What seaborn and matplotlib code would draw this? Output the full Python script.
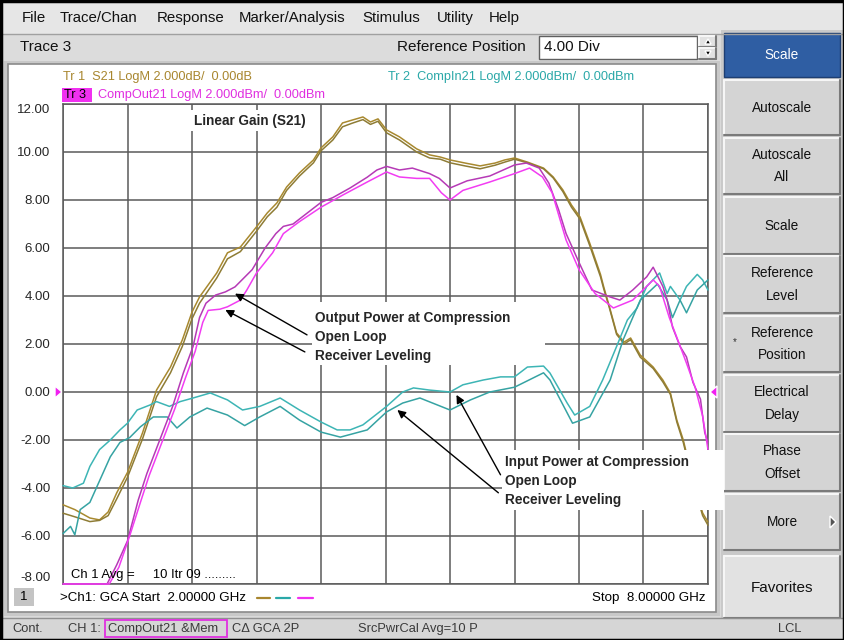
import matplotlib
matplotlib.use("Agg")
import matplotlib.pyplot as plt
from matplotlib.patches import Rectangle, Polygon
import numpy as np
import pandas as pd
import seaborn as sns

# ---------------- data (GHz, dB / dBm) ----------------
s21_freq = [2.0, 2.11, 2.25, 2.34, 2.42, 2.50, 2.60, 2.74, 2.87, 3.0, 3.11, 3.2, 3.27, 3.43, 3.53,
            3.65, 3.80, 3.90, 3.99, 4.08, 4.20, 4.33, 4.40, 4.51, 4.60, 4.69, 4.79, 4.86, 4.93,
            5.01, 5.13, 5.29, 5.41, 5.51, 5.60, 5.74, 5.88, 6.02, 6.11, 6.20, 6.32, 6.47, 6.56,
            6.65, 6.73, 6.81, 6.90, 7.0, 7.03, 7.08, 7.15, 7.22, 7.28, 7.37, 7.49, 7.58, 7.65,
            7.71, 7.77, 7.86, 7.95, 8.0]
s21_data = [-4.7, -4.9, -5.25, -5.33, -5.0, -4.2, -3.35, -1.7, 0.08, 1.04, 2.17, 3.33, 3.96, 4.96, 5.8,
            6.04, 6.88, 7.46, 7.88, 8.54, 9.13, 9.67, 10.17, 10.63, 11.21, 11.33, 11.46, 11.25, 11.38,
            10.92, 10.63, 10.13, 9.88, 9.79, 9.67, 9.54, 9.42, 9.54, 9.67, 9.75, 9.58, 9.33, 8.96,
            8.42, 7.79, 7.29, 6.2, 4.9, 4.38, 3.6, 2.46, 2.08, 2.25, 1.54, 1.04, 0.5, -0.04,
            -1.17, -2.0, -3.67, -5.04, -5.42]
s21_mem = [-5.05, -5.2, -5.4, -5.35, -5.15, -4.45, -3.55, -1.95, -0.2, 0.8, 1.9, 3.05, 3.7, 4.75, 5.55,
           5.85, 6.7, 7.3, 7.7, 8.4, 9.0, 9.55, 10.05, 10.5, 11.05, 11.2, 11.35, 11.15, 11.28,
           10.8, 10.5, 10.0, 9.75, 9.7, 9.55, 9.42, 9.3, 9.45, 9.58, 9.7, 9.55, 9.3, 8.92,
           8.35, 7.7, 7.2, 6.1, 4.8, 4.3, 3.55, 2.4, 2.0, 2.18, 1.45, 0.98, 0.42, -0.1,
           -1.25, -2.1, -3.75, -5.15, -5.55]

out_freq = [2.0, 2.41, 2.50, 2.60, 2.70, 2.78, 2.90, 3.02, 3.12, 3.21, 3.27, 3.33, 3.42, 3.51, 3.60,
            3.76, 3.88, 3.98, 4.05, 4.14, 4.27, 4.40, 4.51, 4.67, 4.83, 4.92, 5.01, 5.13, 5.25,
            5.41, 5.50, 5.60, 5.76, 5.97, 6.20, 6.31, 6.43, 6.52, 6.61, 6.68, 6.80, 6.92, 7.09,
            7.18, 7.30, 7.43, 7.49, 7.58, 7.62, 7.67, 7.74, 7.80, 7.86, 7.93, 7.97, 8.0]
out_open = [-8.0, -8.0, -7.2, -6.2, -4.5, -3.4, -2.0, -0.6, 0.8, 1.9, 3.1, 3.7, 4.04, 4.17, 4.38,
            5.1, 6.0, 6.6, 6.9, 7.0, 7.45, 7.9, 8.1, 8.5, 8.95, 9.25, 9.4, 9.25, 9.33,
            9.1, 8.9, 8.5, 8.8, 9.0, 9.46, 9.54, 9.33, 8.7, 7.6, 6.6, 5.4, 4.25, 3.96,
            3.83, 4.25, 4.8, 5.2, 4.4, 3.83, 2.7, 1.9, 1.46, 0.4, -0.3, -1.7, -2.1]
out_rcv_freq = [2.0, 2.43, 2.52, 2.62, 2.72, 2.80, 2.92, 3.04, 3.14, 3.23, 3.30, 3.35, 3.46, 3.53,
                3.65, 3.71, 3.80, 3.95, 4.05, 4.20, 4.40, 4.60, 4.83, 5.01, 5.13, 5.29, 5.41, 5.52,
                5.60, 5.72, 5.97, 6.20, 6.34, 6.46, 6.55, 6.68, 6.80, 6.95, 7.12, 7.30, 7.49, 7.55,
                7.64, 7.73, 7.80, 7.88, 7.95, 8.0]
out_rcv = [-8.0, -8.0, -7.3, -6.0, -4.6, -3.5, -2.1, -0.7, 0.6, 1.7, 2.9, 3.4, 3.45, 3.55,
           3.83, 4.25, 4.96, 5.8, 6.6, 7.1, 7.7, 8.2, 8.75, 9.17, 8.96, 8.9, 8.9, 8.3,
           8.0, 8.4, 8.75, 9.1, 9.33, 8.96, 8.3, 6.33, 5.1, 4.1, 3.5, 3.83, 4.67, 4.4,
           3.1, 2.04, 1.2, 0.2, -1.0, -2.4]

in_freq = [2.0, 2.09, 2.19, 2.25, 2.34, 2.44, 2.53, 2.60, 2.69, 2.81, 2.87, 2.99, 3.09, 3.21, 3.37,
           3.53, 3.67, 3.83, 4.02, 4.20, 4.40, 4.55, 4.67, 4.79, 5.01, 5.16, 5.26, 5.41, 5.60,
           5.72, 5.91, 6.07, 6.20, 6.32, 6.47, 6.53, 6.69, 6.76, 6.90, 7.02, 7.15, 7.25, 7.34,
           7.43, 7.55, 7.62, 7.65, 7.74, 7.80, 7.90, 7.95, 8.0]
in_open = [-3.9, -4.0, -3.8, -3.1, -2.4, -2.0, -1.58, -1.3, -0.75, -0.54, -0.4, -0.6, -0.4, -0.25, -0.04,
           -0.33, -0.75, -0.6, -0.25, -0.75, -1.25, -1.58, -1.58, -1.37, -0.6, 0.0, 0.17, 0.08, 0.0,
           0.3, 0.5, 0.63, 0.63, 1.04, 1.08, 0.79, -0.46, -0.96, -0.6, 0.5, 1.9, 3.0, 3.5,
           4.4, 4.96, 4.1, 4.4, 3.83, 4.4, 4.9, 4.67, 4.25]
in_rcv_freq = [2.0, 2.07, 2.11, 2.16, 2.25, 2.34, 2.44, 2.53, 2.62, 2.72, 2.84, 2.97, 3.06, 3.18, 3.34,
               3.53, 3.69, 3.83, 4.02, 4.20, 4.40, 4.58, 4.83, 5.01, 5.16, 5.32, 5.60, 5.79, 5.97,
               6.20, 6.47, 6.53, 6.74, 6.90, 7.09, 7.21, 7.37, 7.53, 7.62, 7.67, 7.74, 7.80, 7.90, 8.0]
in_rcv = [-5.9, -5.6, -5.95, -4.9, -4.6, -3.7, -2.7, -2.1, -1.9, -1.45, -1.04, -1.04, -1.5, -1.04, -0.67,
          -0.96, -1.4, -1.04, -0.6, -1.17, -1.67, -1.88, -1.58, -0.83, -0.46, -0.25, -0.75, -0.33, 0.0,
          0.2, 0.8, 0.5, -1.3, -1.04, 0.5, 2.17, 3.83, 4.5, 3.83, 3.1, 3.83, 3.3, 4.25, 4.67]

y_ticks = [-8, -6, -4, -2, 0, 2, 4, 6, 8, 10, 12]
y_tick_labels = ["-8.00", "-6.00", "-4.00", "-2.00", "0.00", "2.00", "4.00", "6.00", "8.00", "10.00", "12.00"]
x_start, x_stop = 2.0, 8.0

menu_items = ["File", "Trace/Chan", "Response", "Marker/Analysis", "Stimulus", "Utility", "Help"]
menu_x = [22, 60, 157, 239, 362, 437, 489]
buttons = ["Autoscale", "Autoscale\nAll", "Scale", "Reference\nLevel", "Reference\nPosition",
           "Electrical\nDelay", "Phase\nOffset", "More"]

C_S21 = ["#A8892F", "#8E7C35"]
C_IN = ["#3DB5B5", "#36A3A3"]
C_OUT = ["#B63AB6", "#F23CF2"]

# ---------------- figure ----------------
sns.set_style("white")
plt.rcParams['font.family'] = ['Liberation Sans', 'DejaVu Sans']

W, H = 844, 640
fig = plt.figure(figsize=(W / 100, H / 100), dpi=100)
fig.patch.set_facecolor("#D9D9D9")
bg = fig.add_axes([0, 0, 1, 1])
bg.set_xlim(0, W)
bg.set_ylim(H, 0)
bg.axis("off")


def rect(x0, y0, x1, y1, fc, ec="none", lw=1.0, z=1):
    bg.add_patch(Rectangle((x0, y0), x1 - x0, y1 - y0, facecolor=fc, edgecolor=ec, lw=lw, zorder=z))


def button(x0, y0, x1, y1, fc="#D4D4D4"):
    rect(x0, y0, x1, y1, fc, z=2)
    bg.plot([x0, x1], [y0, y0], color="#F6F6F6", lw=1.5, zorder=3)
    bg.plot([x0, x0], [y0, y1], color="#F6F6F6", lw=1.5, zorder=3)
    bg.plot([x0, x1], [y1, y1], color="#7A7A7A", lw=1.5, zorder=3)
    bg.plot([x1, x1], [y0, y1], color="#7A7A7A", lw=1.5, zorder=3)


# menu bar
rect(0, 0, W, 34, "#E6E6E6")
bg.plot([0, W], [34, 34], color="#A0A0A0", lw=1, zorder=3)
for t, x in zip(menu_items, menu_x):
    bg.text(x, 18, t, fontsize=10.8, va="center", ha="left", color="#111111", zorder=4)

# second bar
rect(0, 35, 720, 61, "#DCDCDC")
bg.text(20, 47, "Trace 3", fontsize=11, va="center", ha="left", color="#111111", zorder=4)
bg.text(397, 47, "Reference Position", fontsize=11, va="center", ha="left", color="#111111", zorder=4)
rect(539, 36, 697, 59, "white", ec="#606060", lw=1, z=3)
bg.text(544, 47, "4.00 Div", fontsize=11, va="center", ha="left", color="#111111", zorder=4)
button(699, 36, 716, 47, "#E2E2E2")
button(699, 48, 716, 59, "#E2E2E2")
bg.add_patch(Polygon([[705, 44], [711, 44], [708, 39]], closed=True, fc="black", zorder=5))
bg.add_patch(Polygon([[705, 51], [711, 51], [708, 56]], closed=True, fc="black", zorder=5))

# plot panel
rect(4, 61, 720, 616, "#C8C8C8")
rect(8, 64, 716, 612, "white", ec="#8A8A8A", lw=1.2, z=2)

# right panel
rect(721, 30, W, 618, "#C9C9C9")
rect(724, 33, 840, 77, "#2F5EA3", ec="#1E3F73", lw=1, z=2)
bg.text(782, 55, "Scale", fontsize=9.8, ha="center", va="center", color="white", zorder=4)
tops = [80, 138, 197, 256, 316, 375, 434, 494]
bots = [135, 194, 254, 313, 372, 432, 491, 550]
for lab, t0, b0 in zip(buttons, tops, bots):
    button(724, t0, 840, b0)
    bg.text(782, (t0 + b0) / 2, lab, fontsize=9.8, ha="center", va="center",
            color="#111111", linespacing=1.75, zorder=4)
bg.text(735, 342, "*", fontsize=7, ha="center", va="center", color="#333333", zorder=4)
bg.add_patch(Polygon([[830, 516], [830, 528], [836, 522]], closed=True, fc="#555555", zorder=5))
button(724, 556, 840, 618, "#E2E2E2")
bg.text(782, 588, "Favorites", fontsize=11, ha="center", va="center", color="#111111", zorder=4)

# status bar
rect(0, 618, W, H, "#D6D6D6")
bg.plot([0, W], [618, 618], color="#909090", lw=1, zorder=3)
st = [(12, "Cont."), (68, "CH 1:"), (108, "CompOut21 &Mem"), (232, "C\u0394 GCA 2P"),
      (358, "SrcPwrCal Avg=10 P"), (778, "LCL")]
for x, t in st:
    bg.text(x, 629, t, fontsize=9.3, ha="left", va="center", color="#3A3A3A", zorder=4)
rect(105, 620, 227, 637, "none", ec="#E030E0", lw=1.3, z=4)

# outer border
rect(0.5, 0.5, W - 0.5, H - 0.5, "none", ec="black", lw=2.5, z=6)

# trace headers
bg.text(63, 77, "Tr 1  S21 LogM 2.000dB/  0.00dB", fontsize=9.2, ha="left", va="center",
        color="#A8862E", zorder=4)
bg.text(388, 77, "Tr 2  CompIn21 LogM 2.000dBm/  0.00dBm", fontsize=9.2, ha="left", va="center",
        color="#2AA8A8", zorder=4)
rect(62, 88, 92, 102, "#F030F0", z=3)
bg.text(64, 95, "Tr 3", fontsize=9.2, ha="left", va="center", color="black", zorder=4)
bg.text(98, 95, "CompOut21 LogM 2.000dBm/  0.00dBm", fontsize=9.2, ha="left", va="center",
        color="#E02EE0", zorder=4)

# bottom info row
rect(14, 588, 34, 606, "#C4C4C4", z=3)
bg.text(24, 597, "1", fontsize=9.5, ha="center", va="center", color="black", zorder=4)
bg.text(60, 598, ">Ch1: GCA Start  2.00000 GHz", fontsize=9.6, ha="left", va="center", color="black", zorder=4)
bg.plot([257, 270], [598, 598], color="#A8862E", lw=1.6, zorder=4)
bg.plot([276, 290], [598, 598], color="#2AA8A8", lw=1.6, zorder=4)
bg.plot([298, 313], [598, 598], color="#F030F0", lw=1.6, zorder=4)
bg.text(705, 598, "Stop  8.00000 GHz", fontsize=9.6, ha="right", va="center", color="black", zorder=4)

# reference markers
bg.add_patch(Polygon([[55, 386], [55, 398], [62, 392]], closed=True, fc="#F020F0", zorder=5))
bg.add_patch(Polygon([[717, 386], [717, 398], [710, 392]], closed=True, fc="#F020F0", zorder=5))

# ---------------- plot axes ----------------
ax = fig.add_axes([63 / W, 1 - 584 / H, 645 / W, 480 / H])
ax.set_facecolor("white")
ax.set_xlim(x_start, x_stop)
ax.set_ylim(-8, 12)
ax.set_xticks(np.linspace(x_start, x_stop, 11))
ax.set_xticklabels([])
ax.set_yticks(y_ticks)
ax.set_yticklabels(y_tick_labels, fontsize=9.5)
ax.tick_params(axis="both", length=0, pad=9)
labs = ax.get_yticklabels()
labs[0].set_va("bottom")
labs[-1].set_va("top")
ax.grid(True, color="#5A5A5A", lw=1.1)
ax.set_axisbelow(True)
for s in ax.spines.values():
    s.set_color("#5A5A5A")
    s.set_linewidth(1.1)

traces = [
    (s21_freq, s21_data, C_S21[0]), (s21_freq, s21_mem, C_S21[1]),
    (in_freq, in_open, C_IN[0]), (in_rcv_freq, in_rcv, C_IN[1]),
    (out_freq, out_open, C_OUT[0]), (out_rcv_freq, out_rcv, C_OUT[1]),
]
for fx, vy, col in traces:
    df = pd.DataFrame({"f": fx, "v": vy})
    sns.lineplot(data=df, x="f", y="v", ax=ax, color=col, lw=1.1, estimator=None,
                 sort=False, legend=False)
for ln in ax.get_lines():
    ln.set_clip_on(False)
    ln.set_zorder(3)
ax.set_xlabel("")
ax.set_ylabel("")

box = dict(boxstyle="square,pad=0.25", fc="white", ec="none")
ax.text(3.22, 11.3, "Linear Gain (S21)", fontsize=9.8, fontweight="bold", ha="left",
        va="center", bbox=box, zorder=6)

ax.add_patch(Rectangle((4.32, 1.13), 2.16, 2.6, facecolor="white", edgecolor="none", zorder=5))
for i, t in enumerate(["Output Power at Compression", "Open Loop", "Receiver Leveling"]):
    ax.text(4.34, 3.08 - i * 0.79, t, fontsize=9.8, fontweight="bold", ha="left", va="center", zorder=6)
ax.add_patch(Rectangle((6.08, -4.92), 2.07, 2.5, facecolor="white", edgecolor="none",
                       zorder=5, clip_on=False))
for i, t in enumerate(["Input Power at Compression", "Open Loop", "Receiver Leveling"]):
    ax.text(6.11, -2.92 - i * 0.79, t, fontsize=9.8, fontweight="bold", ha="left", va="center",
            zorder=6, clip_on=False)

arrow = dict(arrowstyle="-|>", color="black", lw=1.0, mutation_scale=12, shrinkA=0, shrinkB=0)
ax.annotate("", xy=(3.60, 4.10), xytext=(4.27, 2.38), arrowprops=arrow, zorder=7)
ax.annotate("", xy=(3.51, 3.42), xytext=(4.25, 1.67), arrowprops=arrow, zorder=7)
ax.annotate("", xy=(5.66, -0.12), xytext=(6.07, -3.45), arrowprops=arrow, zorder=7)
ax.annotate("", xy=(5.11, -0.75), xytext=(6.05, -4.2), arrowprops=arrow, zorder=7)

ax.text(2.07, -7.63, "Ch 1 Avg =     10 Itr 09 .........", fontsize=9.4, ha="left", va="center",
        color="black", zorder=6)

fig.savefig("out.png", dpi=100, facecolor=fig.get_facecolor())
